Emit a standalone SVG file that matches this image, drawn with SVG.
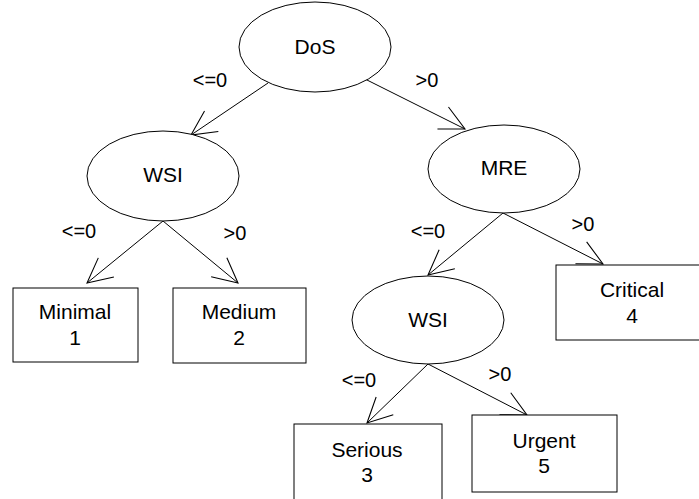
<svg xmlns="http://www.w3.org/2000/svg" width="699" height="499" viewBox="0 0 699 499">
<style>
.n{fill:#fff;stroke:#000;stroke-width:1}
.t{font-family:"Liberation Sans",Arial,sans-serif;font-size:21px;fill:#000;text-anchor:middle}
.l{font-family:"Liberation Sans",Arial,sans-serif;font-size:20px;fill:#000;text-anchor:middle}
.e{stroke:#000;stroke-width:1;fill:none;marker-end:url(#a)}
</style>
<defs>
<marker id="a" markerUnits="userSpaceOnUse" orient="auto" markerWidth="30" markerHeight="30" refX="0" refY="0" viewBox="-26 -14 28 28" overflow="visible">
<path d="M-23,-11.5 L0,0 L-23,11.5" fill="none" stroke="#000" stroke-width="1"/>
</marker>
</defs>
<rect width="699" height="499" fill="#fff"/>
<g id="connectors">
<line class="e" x1="268" y1="83" x2="191" y2="135"/>
<line class="e" x1="365" y1="79" x2="465" y2="129"/>
<line class="e" x1="163" y1="221" x2="87" y2="283"/>
<line class="e" x1="163" y1="221" x2="238" y2="283"/>
<line class="e" x1="503" y1="213" x2="428" y2="275"/>
<line class="e" x1="503" y1="213" x2="603" y2="264"/>
<line class="e" x1="428" y1="364" x2="367" y2="423"/>
<line class="e" x1="428" y1="364" x2="527" y2="415"/>
</g>
<g id="labels">
<text class="l" x="210" y="87">&lt;=0</text>
<text class="l" x="427" y="87">&gt;0</text>
<text class="l" x="79" y="238">&lt;=0</text>
<text class="l" x="235" y="240">&gt;0</text>
<text class="l" x="428" y="238">&lt;=0</text>
<text class="l" x="583" y="231">&gt;0</text>
<text class="l" x="359" y="387">&lt;=0</text>
<text class="l" x="500" y="381">&gt;0</text>
</g>
<g id="dos"><ellipse class="n" cx="315" cy="47" rx="76" ry="45"/><text class="t" x="315" y="54">DoS</text></g>
<g id="wsi1"><ellipse class="n" cx="163" cy="176" rx="76" ry="45"/><text class="t" x="163" y="182">WSI</text></g>
<g id="mre"><ellipse class="n" cx="504" cy="169" rx="76" ry="44"/><text class="t" x="504" y="175">MRE</text></g>
<g id="wsi2"><ellipse class="n" cx="428" cy="320" rx="76" ry="44"/><text class="t" x="428" y="327">WSI</text></g>
<g id="minimal"><rect class="n" x="13" y="288" width="125" height="74"/><text class="t" x="75" y="319">Minimal</text><text class="t" x="75" y="345">1</text></g>
<g id="medium"><rect class="n" x="173" y="288" width="133" height="75"/><text class="t" x="239" y="319">Medium</text><text class="t" x="239" y="345">2</text></g>
<g id="critical"><rect class="n" x="556" y="265" width="150" height="75"/><text class="t" x="632" y="297">Critical</text><text class="t" x="632" y="323">4</text></g>
<g id="serious"><rect class="n" x="294" y="424" width="148" height="90"/><text class="t" x="367" y="457">Serious</text><text class="t" x="367" y="482">3</text></g>
<g id="urgent"><rect class="n" x="472" y="415" width="145" height="77"/><text class="t" x="544" y="448">Urgent</text><text class="t" x="544" y="473">5</text></g>
</svg>
